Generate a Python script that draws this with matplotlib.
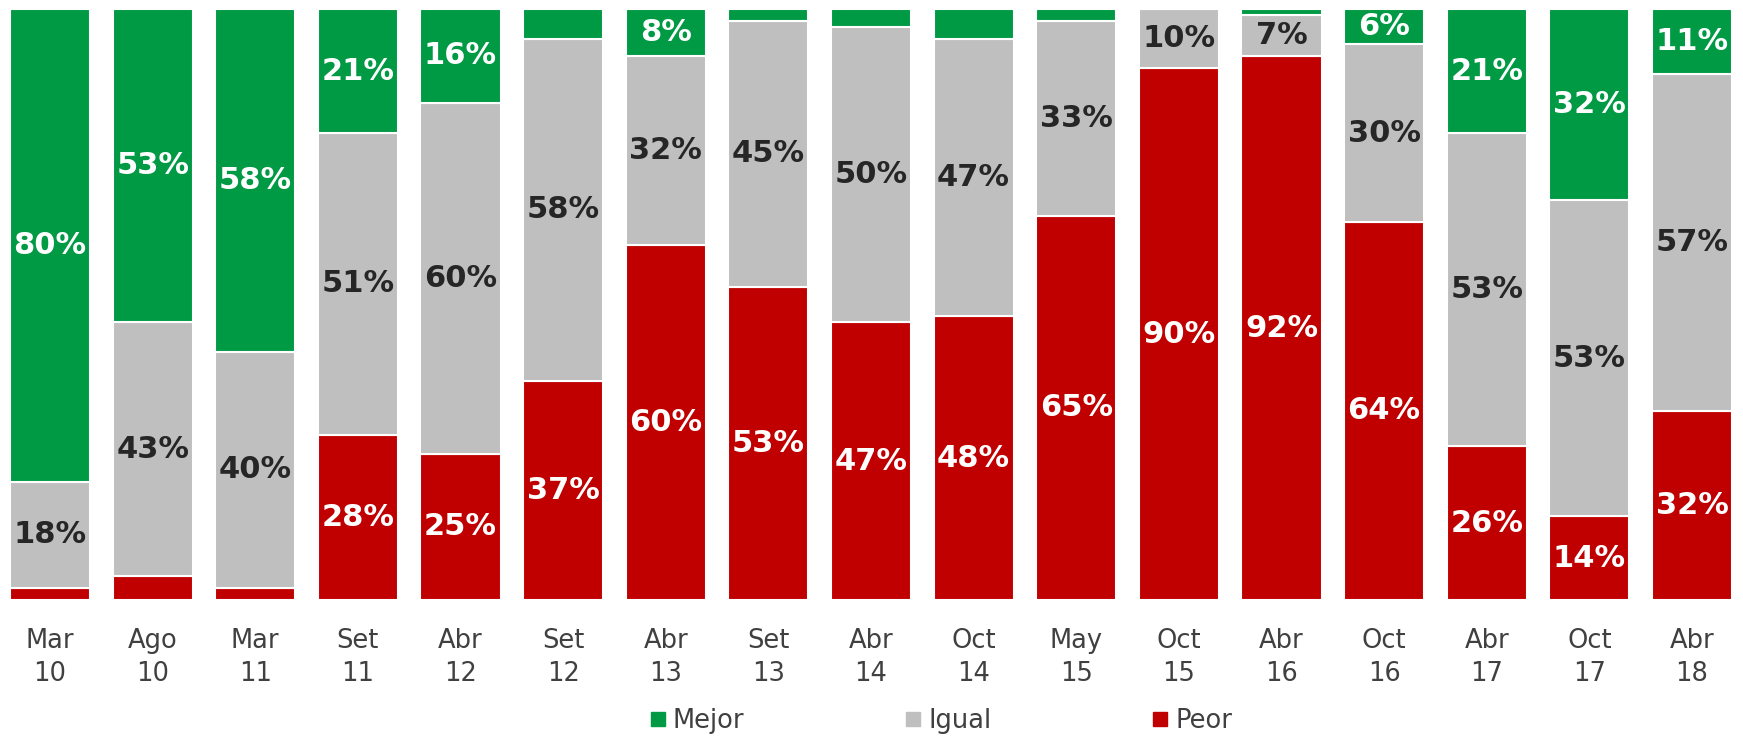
import matplotlib
matplotlib.use("Agg")
import matplotlib.pyplot as plt
import numpy as np
from matplotlib.lines import Line2D

categories = ["Mar\n10", "Ago\n10", "Mar\n11", "Set\n11", "Abr\n12", "Set\n12",
              "Abr\n13", "Set\n13", "Abr\n14", "Oct\n14", "May\n15", "Oct\n15",
              "Abr\n16", "Oct\n16", "Abr\n17", "Oct\n17", "Abr\n18"]
peor = [2, 4, 2, 28, 25, 37, 60, 53, 47, 48, 65, 90, 92, 64, 26, 14, 32]
igual = [18, 43, 40, 51, 60, 58, 32, 45, 50, 47, 33, 10, 7, 30, 53, 53, 57]
mejor = [80, 53, 58, 21, 16, 5, 8, 2, 3, 5, 2, 0, 1, 6, 21, 32, 11]

GREEN = "#009A44"
GRAY = "#BFBFBF"
RED = "#C00000"
TEXT = "#404040"


def main():
    fig = plt.figure(figsize=(17.43, 7.36), dpi=100)
    ax = fig.add_axes([10 / 1743, 1 - 600 / 736, 1722 / 1743, 591 / 736])

    x = np.arange(len(categories))
    raw = np.array([peor, igual, mejor], dtype=float)
    totals = raw.sum(axis=0)
    shares = raw / totals * 100

    series = [("Peor", RED, "white"), ("Igual", GRAY, "#262626"), ("Mejor", GREEN, "white")]
    bottom = np.zeros(len(categories))
    for (name, color, tcolor), vals, h in zip(series, raw, shares):
        ax.bar(x, h, 0.78, bottom=bottom, color=color, edgecolor="white", linewidth=1.5)
        for xi, v, hi, b in zip(x, vals, h, bottom):
            if v >= 6:
                ax.text(xi, b + hi / 2, f"{v:.0f}%", ha="center", va="center",
                        color=tcolor, fontsize=22, fontweight="bold")
        bottom += h

    ax.set_xlim(-0.39, len(categories) - 0.61)
    ax.set_ylim(0, 100)
    ax.set_xticks(x)
    ax.set_xticklabels(categories, fontsize=18.5, color=TEXT, linespacing=1.35)
    ax.tick_params(axis="x", length=0, pad=20)
    ax.set_yticks([])
    for s in ax.spines.values():
        s.set_visible(False)

    handles = [Line2D([], [], marker="s", linestyle="none", markersize=10, color=c)
               for c in (GREEN, GRAY, RED)]
    fig.legend(handles, ["Mejor", "Igual", "Peor"], loc="center",
               bbox_to_anchor=(941 / 1743, 1 - 721 / 736), ncol=3, frameon=False,
               fontsize=18.5, labelcolor=TEXT, handlelength=0.6, handletextpad=0.3,
               columnspacing=6.25)

    fig.savefig("out.png", dpi=100)


if __name__ == "__main__":
    main()
